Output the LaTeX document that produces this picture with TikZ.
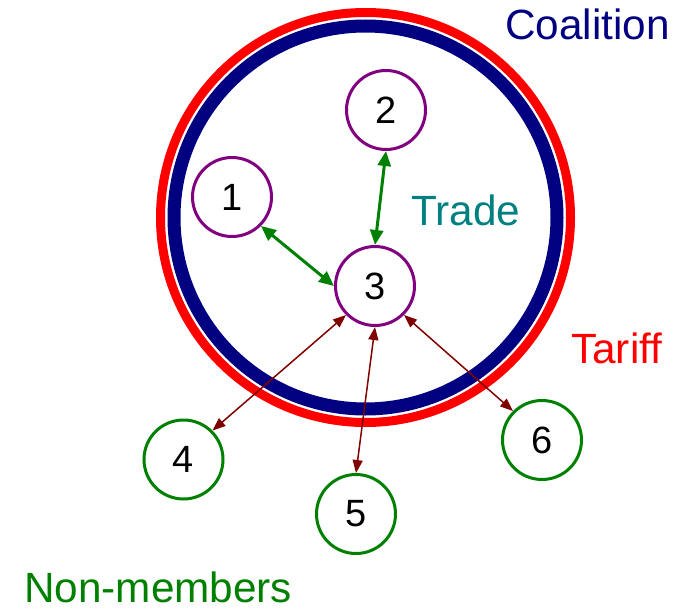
\documentclass[tikz,border=0pt]{standalone}
\usepackage{fontspec}
\setmainfont{Liberation Sans}
\usetikzlibrary{arrows.meta}
\definecolor{navyc}{RGB}{0,0,128}
\definecolor{purplec}{RGB}{128,0,128}
\definecolor{greenc}{RGB}{0,128,0}
\definecolor{maroonc}{RGB}{128,0,0}
\definecolor{tealc}{RGB}{0,128,128}
\definecolor{redc}{RGB}{255,0,0}
\tikzset{
  member/.style={circle, draw=purplec, line width=3pt, minimum size=79pt, inner sep=0pt, font=\fontsize{38}{44}\selectfont},
  nonmember/.style={circle, draw=greenc, line width=3pt, minimum size=79pt, inner sep=0pt, font=\fontsize{38}{44}\selectfont},
  tradearrow/.style={greenc, line width=3pt, {Triangle[length=15pt,width=13pt]}-{Triangle[length=15pt,width=13pt]}},
  tariffarrow/.style={maroonc, line width=1.5pt, {Triangle[length=13pt,width=10pt]}-{Triangle[length=13pt,width=10pt]}},
  label/.style={font=\fontsize{42.3}{48}\selectfont, inner sep=0pt, anchor=base west}
}
\begin{document}
\begin{tikzpicture}[x=1pt,y=-1pt]
\useasboundingbox (0,0) rectangle (694,610);
\coordinate (c) at (365.5,217.5);
\draw[redc, line width=9pt] (c) circle[radius=205];
\draw[navyc, line width=13pt] (c) circle[radius=191.5];
\node[member] (n1) at (232,197) {1};
\node[member] (n2) at (386,110) {2};
\node[member] (n3) at (375,286) {3};
\node[nonmember] (n4) at (183.5,459.5) {4};
\node[nonmember] (n5) at (356,514) {5};
\node[nonmember] (n6) at (542,440) {6};
\draw[tradearrow] (n1.-45) -- (n3.west);
\draw[tradearrow] (n2.south) -- (n3.north);
\draw[tariffarrow] (n3.-135) -- (n4.45);
\draw[tariffarrow] (n3.south) -- (n5.north);
\draw[tariffarrow] (n3.-45) -- (n6.135);
\node[label, text=navyc] (coal) at (505,40) {Coalition};
\node[label, text=tealc] (trade) at (411,225) {Trade};
\node[label, text=redc] (tariff) at (571,363) {Tariff};
\node[label, text=greenc] (nonm) at (24,602) {Non-members};
\end{tikzpicture}
\end{document}
